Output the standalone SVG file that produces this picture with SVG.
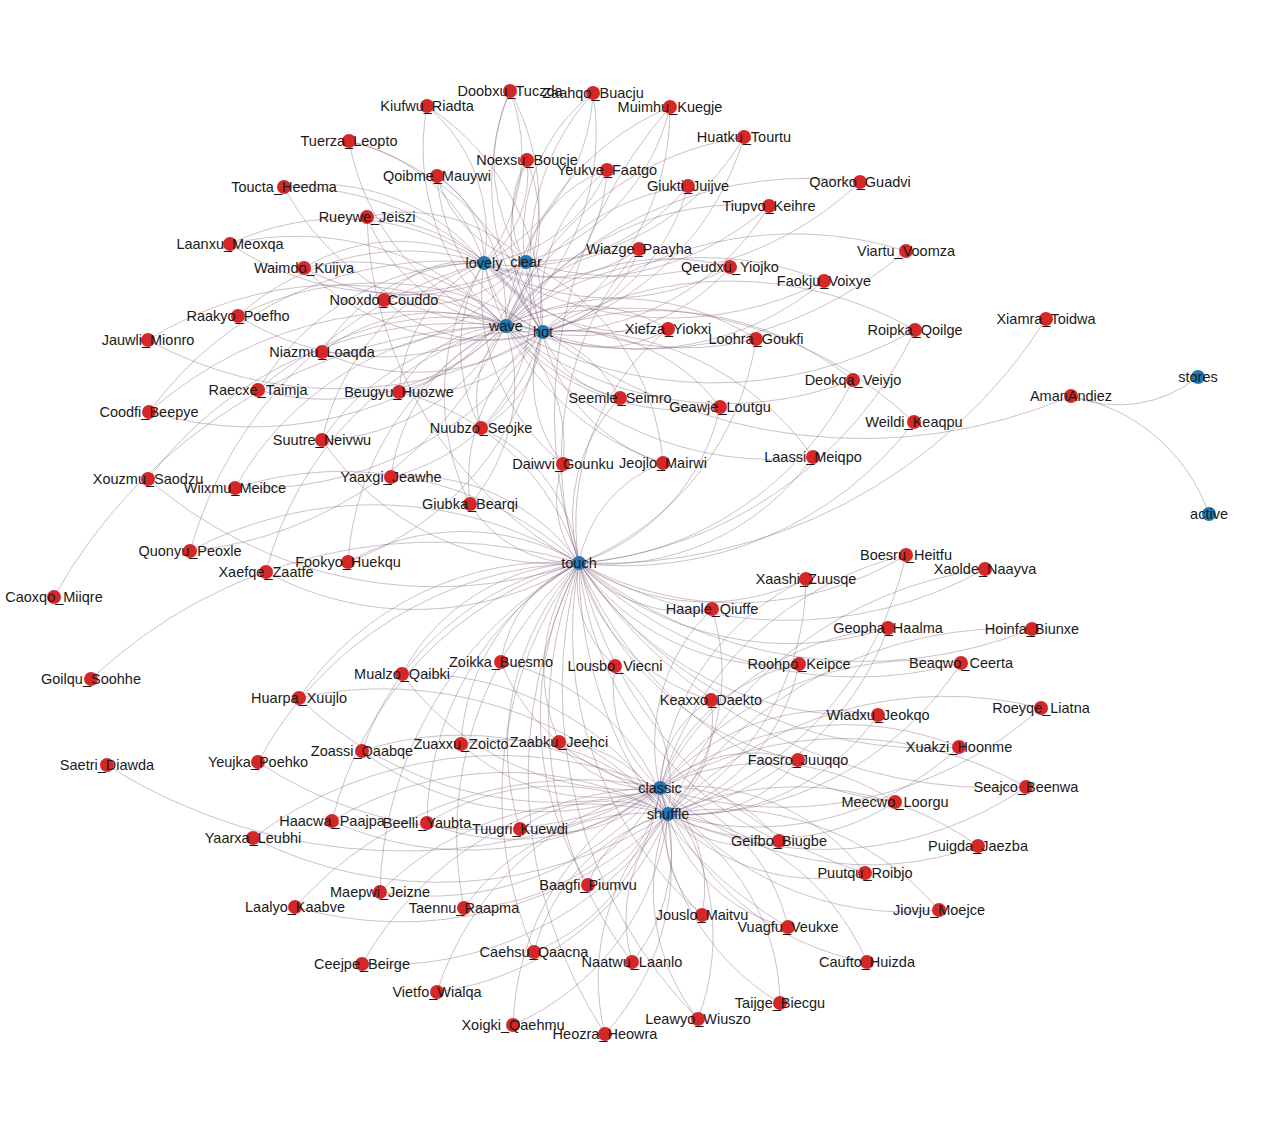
<svg xmlns="http://www.w3.org/2000/svg" width="1263" height="1125" viewBox="0 0 1263 1125">
<style>
#edges path{fill:none;stroke:#83627a;stroke-opacity:.4;stroke-width:1;vector-effect:non-scaling-stroke}
.n circle{fill:#d62728}
.h circle{fill:#1f77b4}
text{font-family:"Liberation Sans",Arial,Helvetica,sans-serif;font-size:14.5px;text-anchor:middle;fill:#1a1a1a}
</style>
<rect width="1263" height="1125" fill="#fff"/>
<g id="edges">
<path d="M0 0A1 1 0 0 1 1 0" transform="matrix(-26,172,-172,-26,510,91)"/>
<path d="M0 0A1 1 0 0 0 1 0" transform="matrix(15,171,-171,15,510,91)"/>
<path d="M0 0A1 1 0 0 1 1 0" transform="matrix(-5,235,-235,-5,510,91)"/>
<path d="M0 0A1 1 0 0 0 1 0" transform="matrix(32,241,-241,32,510,91)"/>
<path d="M0 0A1 1 0 0 1 1 0" transform="matrix(-109,170,-170,-109,593,93)"/>
<path d="M0 0A1 1 0 0 0 1 0" transform="matrix(-68,169,-169,-68,593,93)"/>
<path d="M0 0A1 1 0 0 1 1 0" transform="matrix(-88,233,-233,-88,593,93)"/>
<path d="M0 0A1 1 0 0 0 1 0" transform="matrix(-51,239,-239,-51,593,93)"/>
<path d="M0 0A1 1 0 0 1 1 0" transform="matrix(57,157,-157,57,427,106)"/>
<path d="M0 0A1 1 0 0 0 1 0" transform="matrix(78,220,-220,78,427,106)"/>
<path d="M0 0A1 1 0 0 1 1 0" transform="matrix(115,226,-226,115,427,106)"/>
<path d="M0 0A1 1 0 0 1 1 0" transform="matrix(-145,155,-155,-145,670,107)"/>
<path d="M0 0A1 1 0 0 0 1 0" transform="matrix(-165,219,-219,-165,670,107)"/>
<path d="M0 0A1 1 0 0 1 1 0" transform="matrix(-128,225,-225,-128,670,107)"/>
<path d="M0 0A1 1 0 0 0 1 0" transform="matrix(-91,456,-456,-91,670,107)"/>
<path d="M0 0A1 1 0 0 1 1 0" transform="matrix(135,122,-122,135,349,141)"/>
<path d="M0 0A1 1 0 0 0 1 0" transform="matrix(156,185,-185,156,349,141)"/>
<path d="M0 0A1 1 0 0 1 1 0" transform="matrix(193,191,-191,193,349,141)"/>
<path d="M0 0A1 1 0 0 1 1 0" transform="matrix(-219,125,-125,-219,744,137)"/>
<path d="M0 0A1 1 0 0 0 1 0" transform="matrix(-239,189,-189,-239,744,137)"/>
<path d="M0 0A1 1 0 0 1 1 0" transform="matrix(-202,195,-195,-202,744,137)"/>
<path d="M0 0A1 1 0 0 1 1 0" transform="matrix(-43,103,-103,-43,527,160)"/>
<path d="M0 0A1 1 0 0 0 1 0" transform="matrix(-2,102,-102,-2,527,160)"/>
<path d="M0 0A1 1 0 0 1 1 0" transform="matrix(-22,166,-166,-22,527,160)"/>
<path d="M0 0A1 1 0 0 0 1 0" transform="matrix(15,172,-172,15,527,160)"/>
<path d="M0 0A1 1 0 0 1 1 0" transform="matrix(-123,93,-93,-123,607,170)"/>
<path d="M0 0A1 1 0 0 0 1 0" transform="matrix(-82,92,-92,-82,607,170)"/>
<path d="M0 0A1 1 0 0 1 1 0" transform="matrix(-102,156,-156,-102,607,170)"/>
<path d="M0 0A1 1 0 0 0 1 0" transform="matrix(-65,162,-162,-65,607,170)"/>
<path d="M0 0A1 1 0 0 1 1 0" transform="matrix(47,87,-87,47,437,176)"/>
<path d="M0 0A1 1 0 0 0 1 0" transform="matrix(88,86,-86,88,437,176)"/>
<path d="M0 0A1 1 0 0 1 1 0" transform="matrix(68,150,-150,68,437,176)"/>
<path d="M0 0A1 1 0 0 0 1 0" transform="matrix(105,156,-156,105,437,176)"/>
<path d="M0 0A1 1 0 0 1 1 0" transform="matrix(-204,77,-77,-204,688,186)"/>
<path d="M0 0A1 1 0 0 0 1 0" transform="matrix(-183,140,-140,-183,688,186)"/>
<path d="M0 0A1 1 0 0 1 1 0" transform="matrix(-146,146,-146,-146,688,186)"/>
<path d="M0 0A1 1 0 0 1 1 0" transform="matrix(-335,80,-80,-335,860,182)"/>
<path d="M0 0A1 1 0 0 0 1 0" transform="matrix(-355,144,-144,-355,860,182)"/>
<path d="M0 0A1 1 0 0 1 1 0" transform="matrix(200,76,-76,200,284,187)"/>
<path d="M0 0A1 1 0 0 0 1 0" transform="matrix(221,139,-139,221,284,187)"/>
<path d="M0 0A1 1 0 0 1 1 0" transform="matrix(258,145,-145,258,284,187)"/>
<path d="M0 0A1 1 0 0 1 1 0" transform="matrix(-285,57,-57,-285,769,206)"/>
<path d="M0 0A1 1 0 0 0 1 0" transform="matrix(-264,120,-120,-264,769,206)"/>
<path d="M0 0A1 1 0 0 1 1 0" transform="matrix(-227,126,-126,-227,769,206)"/>
<path d="M0 0A1 1 0 0 1 1 0" transform="matrix(158,45,-45,158,367,217)"/>
<path d="M0 0A1 1 0 0 0 1 0" transform="matrix(138,109,-109,138,367,217)"/>
<path d="M0 0A1 1 0 0 1 1 0" transform="matrix(175,115,-115,175,367,217)"/>
<path d="M0 0A1 1 0 0 0 1 0" transform="matrix(212,346,-346,212,367,217)"/>
<path d="M0 0A1 1 0 0 1 1 0" transform="matrix(254,19,-19,254,230,244)"/>
<path d="M0 0A1 1 0 0 0 1 0" transform="matrix(295,18,-18,295,230,244)"/>
<path d="M0 0A1 1 0 0 1 1 0" transform="matrix(275,82,-82,275,230,244)"/>
<path d="M0 0A1 1 0 0 1 1 0" transform="matrix(-155,14,-14,-155,639,249)"/>
<path d="M0 0A1 1 0 0 0 1 0" transform="matrix(-134,77,-77,-134,639,249)"/>
<path d="M0 0A1 1 0 0 1 1 0" transform="matrix(-97,83,-83,-97,639,249)"/>
<path d="M0 0A1 1 0 0 0 1 0" transform="matrix(-60,314,-314,-60,639,249)"/>
<path d="M0 0A1 1 0 0 1 1 0" transform="matrix(-401,75,-75,-401,906,251)"/>
<path d="M0 0A1 1 0 0 0 1 0" transform="matrix(-364,81,-81,-364,906,251)"/>
<path d="M0 0A1 1 0 0 1 1 0" transform="matrix(180,-5,5,180,304,268)"/>
<path d="M0 0A1 1 0 0 0 1 0" transform="matrix(221,-6,6,221,304,268)"/>
<path d="M0 0A1 1 0 0 1 1 0" transform="matrix(201,58,-58,201,304,268)"/>
<path d="M0 0A1 1 0 0 0 1 0" transform="matrix(238,64,-64,238,304,268)"/>
<path d="M0 0A1 1 0 0 1 1 0" transform="matrix(-246,-4,4,-246,730,267)"/>
<path d="M0 0A1 1 0 0 0 1 0" transform="matrix(-225,59,-59,-225,730,267)"/>
<path d="M0 0A1 1 0 0 1 1 0" transform="matrix(-188,65,-65,-188,730,267)"/>
<path d="M0 0A1 1 0 0 1 1 0" transform="matrix(-340,-18,18,-340,824,281)"/>
<path d="M0 0A1 1 0 0 0 1 0" transform="matrix(-319,45,-45,-319,824,281)"/>
<path d="M0 0A1 1 0 0 1 1 0" transform="matrix(-282,51,-51,-282,824,281)"/>
<path d="M0 0A1 1 0 0 1 1 0" transform="matrix(100,-37,37,100,384,300)"/>
<path d="M0 0A1 1 0 0 0 1 0" transform="matrix(141,-38,38,141,384,300)"/>
<path d="M0 0A1 1 0 0 1 1 0" transform="matrix(121,26,-26,121,384,300)"/>
<path d="M0 0A1 1 0 0 0 1 0" transform="matrix(158,32,-32,158,384,300)"/>
<path d="M0 0A1 1 0 0 1 1 0" transform="matrix(246,-53,53,246,238,316)"/>
<path d="M0 0A1 1 0 0 0 1 0" transform="matrix(267,10,-10,267,238,316)"/>
<path d="M0 0A1 1 0 0 1 1 0" transform="matrix(304,16,-16,304,238,316)"/>
<path d="M0 0A1 1 0 0 1 1 0" transform="matrix(-467,244,-244,-467,1046,319)"/>
<path d="M0 0A1 1 0 0 1 1 0" transform="matrix(-184,-66,66,-184,668,329)"/>
<path d="M0 0A1 1 0 0 0 1 0" transform="matrix(-163,-3,3,-163,668,329)"/>
<path d="M0 0A1 1 0 0 1 1 0" transform="matrix(-126,3,-3,-126,668,329)"/>
<path d="M0 0A1 1 0 0 0 1 0" transform="matrix(-89,234,-234,-89,668,329)"/>
<path d="M0 0A1 1 0 0 1 1 0" transform="matrix(-410,-4,4,-410,915,330)"/>
<path d="M0 0A1 1 0 0 0 1 0" transform="matrix(-373,2,-2,-373,915,330)"/>
<path d="M0 0A1 1 0 0 1 1 0" transform="matrix(-336,233,-233,-336,915,330)"/>
<path d="M0 0A1 1 0 0 1 1 0" transform="matrix(357,-14,14,357,148,340)"/>
<path d="M0 0A1 1 0 0 0 1 0" transform="matrix(394,-8,8,394,148,340)"/>
<path d="M0 0A1 1 0 0 1 1 0" transform="matrix(-272,-76,76,-272,756,339)"/>
<path d="M0 0A1 1 0 0 0 1 0" transform="matrix(-251,-13,13,-251,756,339)"/>
<path d="M0 0A1 1 0 0 1 1 0" transform="matrix(-177,224,-224,-177,756,339)"/>
<path d="M0 0A1 1 0 0 1 1 0" transform="matrix(162,-89,89,162,322,352)"/>
<path d="M0 0A1 1 0 0 0 1 0" transform="matrix(203,-90,90,203,322,352)"/>
<path d="M0 0A1 1 0 0 1 1 0" transform="matrix(183,-26,26,183,322,352)"/>
<path d="M0 0A1 1 0 0 0 1 0" transform="matrix(220,-20,20,220,322,352)"/>
<path d="M0 0A1 1 0 0 1 1 0" transform="matrix(-348,-54,54,-348,853,380)"/>
<path d="M0 0A1 1 0 0 0 1 0" transform="matrix(-311,-48,48,-311,853,380)"/>
<path d="M0 0A1 1 0 0 1 1 0" transform="matrix(-274,183,-183,-274,853,380)"/>
<path d="M0 0A1 1 0 0 1 1 0" transform="matrix(226,-127,127,226,258,390)"/>
<path d="M0 0A1 1 0 0 0 1 0" transform="matrix(247,-64,64,247,258,390)"/>
<path d="M0 0A1 1 0 0 1 1 0" transform="matrix(284,-58,58,284,258,390)"/>
<path d="M0 0A1 1 0 0 1 1 0" transform="matrix(85,-129,129,85,399,392)"/>
<path d="M0 0A1 1 0 0 0 1 0" transform="matrix(126,-130,130,126,399,392)"/>
<path d="M0 0A1 1 0 0 1 1 0" transform="matrix(106,-66,66,106,399,392)"/>
<path d="M0 0A1 1 0 0 0 1 0" transform="matrix(143,-60,60,143,399,392)"/>
<path d="M0 0A1 1 0 0 1 1 0" transform="matrix(180,171,-171,180,399,392)"/>
<path d="M0 0A1 1 0 0 1 1 0" transform="matrix(-528,-64,64,-528,1071,396)"/>
<path d="M0 0A1 1 0 0 0 1 0" transform="matrix(127,-19,19,127,1071,396)"/>
<path d="M0 0A1 1 0 0 1 1 0" transform="matrix(138,118,-118,138,1071,396)"/>
<path d="M0 0A1 1 0 0 1 1 0" transform="matrix(-136,-135,135,-136,620,398)"/>
<path d="M0 0A1 1 0 0 0 1 0" transform="matrix(-115,-72,72,-115,620,398)"/>
<path d="M0 0A1 1 0 0 1 1 0" transform="matrix(-78,-66,66,-78,620,398)"/>
<path d="M0 0A1 1 0 0 0 1 0" transform="matrix(-41,165,-165,-41,620,398)"/>
<path d="M0 0A1 1 0 0 1 1 0" transform="matrix(-215,-81,81,-215,720,407)"/>
<path d="M0 0A1 1 0 0 0 1 0" transform="matrix(-178,-75,75,-178,720,407)"/>
<path d="M0 0A1 1 0 0 1 1 0" transform="matrix(-141,156,-156,-141,720,407)"/>
<path d="M0 0A1 1 0 0 1 1 0" transform="matrix(335,-149,149,335,149,412)"/>
<path d="M0 0A1 1 0 0 0 1 0" transform="matrix(356,-86,86,356,149,412)"/>
<path d="M0 0A1 1 0 0 1 1 0" transform="matrix(393,-80,80,393,149,412)"/>
<path d="M0 0A1 1 0 0 0 1 0" transform="matrix(-409,-96,96,-409,914,422)"/>
<path d="M0 0A1 1 0 0 1 1 0" transform="matrix(-335,141,-141,-335,914,422)"/>
<path d="M0 0A1 1 0 0 1 1 0" transform="matrix(3,-165,165,3,481,428)"/>
<path d="M0 0A1 1 0 0 0 1 0" transform="matrix(44,-166,166,44,481,428)"/>
<path d="M0 0A1 1 0 0 1 1 0" transform="matrix(24,-102,102,24,481,428)"/>
<path d="M0 0A1 1 0 0 0 1 0" transform="matrix(61,-96,96,61,481,428)"/>
<path d="M0 0A1 1 0 0 1 1 0" transform="matrix(98,135,-135,98,481,428)"/>
<path d="M0 0A1 1 0 0 1 1 0" transform="matrix(162,-177,177,162,322,440)"/>
<path d="M0 0A1 1 0 0 0 1 0" transform="matrix(183,-114,114,183,322,440)"/>
<path d="M0 0A1 1 0 0 1 1 0" transform="matrix(220,-108,108,220,322,440)"/>
<path d="M0 0A1 1 0 0 0 1 0" transform="matrix(257,123,-123,257,322,440)"/>
<path d="M0 0A1 1 0 0 1 1 0" transform="matrix(-308,-131,131,-308,813,457)"/>
<path d="M0 0A1 1 0 0 0 1 0" transform="matrix(-271,-125,125,-271,813,457)"/>
<path d="M0 0A1 1 0 0 1 1 0" transform="matrix(-234,106,-106,-234,813,457)"/>
<path d="M0 0A1 1 0 0 1 1 0" transform="matrix(-79,-201,201,-79,563,464)"/>
<path d="M0 0A1 1 0 0 0 1 0" transform="matrix(-58,-138,138,-58,563,464)"/>
<path d="M0 0A1 1 0 0 1 1 0" transform="matrix(-21,-132,132,-21,563,464)"/>
<path d="M0 0A1 1 0 0 0 1 0" transform="matrix(16,99,-99,16,563,464)"/>
<path d="M0 0A1 1 0 0 1 1 0" transform="matrix(-179,-200,200,-179,663,463)"/>
<path d="M0 0A1 1 0 0 0 1 0" transform="matrix(-138,-201,201,-138,663,463)"/>
<path d="M0 0A1 1 0 0 1 1 0" transform="matrix(-121,-131,131,-121,663,463)"/>
<path d="M0 0A1 1 0 0 0 1 0" transform="matrix(-84,100,-100,-84,663,463)"/>
<path d="M0 0A1 1 0 0 1 1 0" transform="matrix(114,-151,151,114,391,477)"/>
<path d="M0 0A1 1 0 0 0 1 0" transform="matrix(151,-145,145,151,391,477)"/>
<path d="M0 0A1 1 0 0 1 1 0" transform="matrix(188,86,-86,188,391,477)"/>
<path d="M0 0A1 1 0 0 1 1 0" transform="matrix(357,-153,153,357,148,479)"/>
<path d="M0 0A1 1 0 0 0 1 0" transform="matrix(431,84,-84,431,148,479)"/>
<path d="M0 0A1 1 0 0 1 1 0" transform="matrix(270,-162,162,270,235,488)"/>
<path d="M0 0A1 1 0 0 0 1 0" transform="matrix(307,-156,156,307,235,488)"/>
<path d="M0 0A1 1 0 0 1 1 0" transform="matrix(344,75,-75,344,235,488)"/>
<path d="M0 0A1 1 0 0 1 1 0" transform="matrix(14,-241,241,14,470,504)"/>
<path d="M0 0A1 1 0 0 0 1 0" transform="matrix(35,-178,178,35,470,504)"/>
<path d="M0 0A1 1 0 0 1 1 0" transform="matrix(72,-172,172,72,470,504)"/>
<path d="M0 0A1 1 0 0 0 1 0" transform="matrix(109,59,-59,109,470,504)"/>
<path d="M0 0A1 1 0 0 1 1 0" transform="matrix(294,-288,288,294,190,551)"/>
<path d="M0 0A1 1 0 0 0 1 0" transform="matrix(315,-225,225,315,190,551)"/>
<path d="M0 0A1 1 0 0 1 1 0" transform="matrix(389,12,-12,389,190,551)"/>
<path d="M0 0A1 1 0 0 1 1 0" transform="matrix(157,-236,236,157,348,562)"/>
<path d="M0 0A1 1 0 0 0 1 0" transform="matrix(194,-230,230,194,348,562)"/>
<path d="M0 0A1 1 0 0 1 1 0" transform="matrix(231,1,-1,231,348,562)"/>
<path d="M0 0A1 1 0 0 1 1 0" transform="matrix(239,-246,246,239,266,572)"/>
<path d="M0 0A1 1 0 0 0 1 0" transform="matrix(313,-9,9,313,266,572)"/>
<path d="M0 0A1 1 0 0 1 1 0" transform="matrix(451,-271,271,451,54,597)"/>
<path d="M0 0A1 1 0 0 1 1 0" transform="matrix(-327,8,-8,-327,906,555)"/>
<path d="M0 0A1 1 0 0 0 1 0" transform="matrix(-246,233,-233,-246,906,555)"/>
<path d="M0 0A1 1 0 0 1 1 0" transform="matrix(-238,259,-259,-238,906,555)"/>
<path d="M0 0A1 1 0 0 1 1 0" transform="matrix(-406,-6,6,-406,985,569)"/>
<path d="M0 0A1 1 0 0 0 1 0" transform="matrix(-317,245,-245,-317,985,569)"/>
<path d="M0 0A1 1 0 0 1 1 0" transform="matrix(-227,-16,16,-227,806,579)"/>
<path d="M0 0A1 1 0 0 0 1 0" transform="matrix(-146,209,-209,-146,806,579)"/>
<path d="M0 0A1 1 0 0 1 1 0" transform="matrix(-138,235,-235,-138,806,579)"/>
<path d="M0 0A1 1 0 0 1 1 0" transform="matrix(-133,-46,46,-133,712,609)"/>
<path d="M0 0A1 1 0 0 0 1 0" transform="matrix(-52,179,-179,-52,712,609)"/>
<path d="M0 0A1 1 0 0 1 1 0" transform="matrix(-44,205,-205,-44,712,609)"/>
<path d="M0 0A1 1 0 0 1 1 0" transform="matrix(-309,-65,65,-309,888,628)"/>
<path d="M0 0A1 1 0 0 0 1 0" transform="matrix(-228,160,-160,-228,888,628)"/>
<path d="M0 0A1 1 0 0 1 1 0" transform="matrix(-220,186,-186,-220,888,628)"/>
<path d="M0 0A1 1 0 0 1 1 0" transform="matrix(-453,-66,66,-453,1032,629)"/>
<path d="M0 0A1 1 0 0 0 1 0" transform="matrix(-364,185,-185,-364,1032,629)"/>
<path d="M0 0A1 1 0 0 1 1 0" transform="matrix(78,-99,99,78,501,662)"/>
<path d="M0 0A1 1 0 0 0 1 0" transform="matrix(159,126,-126,159,501,662)"/>
<path d="M0 0A1 1 0 0 1 1 0" transform="matrix(167,152,-152,167,501,662)"/>
<path d="M0 0A1 1 0 0 1 1 0" transform="matrix(-382,-100,100,-382,961,663)"/>
<path d="M0 0A1 1 0 0 0 1 0" transform="matrix(-301,125,-125,-301,961,663)"/>
<path d="M0 0A1 1 0 0 1 1 0" transform="matrix(-293,151,-151,-293,961,663)"/>
<path d="M0 0A1 1 0 0 1 1 0" transform="matrix(-220,-101,101,-220,799,664)"/>
<path d="M0 0A1 1 0 0 0 1 0" transform="matrix(-139,124,-124,-139,799,664)"/>
<path d="M0 0A1 1 0 0 1 1 0" transform="matrix(-131,150,-150,-131,799,664)"/>
<path d="M0 0A1 1 0 0 1 1 0" transform="matrix(-36,-103,103,-36,615,666)"/>
<path d="M0 0A1 1 0 0 0 1 0" transform="matrix(45,122,-122,45,615,666)"/>
<path d="M0 0A1 1 0 0 1 1 0" transform="matrix(53,148,-148,53,615,666)"/>
<path d="M0 0A1 1 0 0 1 1 0" transform="matrix(177,-111,111,177,402,674)"/>
<path d="M0 0A1 1 0 0 0 1 0" transform="matrix(258,114,-114,258,402,674)"/>
<path d="M0 0A1 1 0 0 1 1 0" transform="matrix(266,140,-140,266,402,674)"/>
<path d="M0 0A1 1 0 0 1 1 0" transform="matrix(488,-116,116,488,91,679)"/>
<path d="M0 0A1 1 0 0 1 1 0" transform="matrix(280,-135,135,280,299,698)"/>
<path d="M0 0A1 1 0 0 0 1 0" transform="matrix(361,90,-90,361,299,698)"/>
<path d="M0 0A1 1 0 0 1 1 0" transform="matrix(369,116,-116,369,299,698)"/>
<path d="M0 0A1 1 0 0 1 1 0" transform="matrix(-132,-137,137,-132,711,700)"/>
<path d="M0 0A1 1 0 0 0 1 0" transform="matrix(-51,88,-88,-51,711,700)"/>
<path d="M0 0A1 1 0 0 1 1 0" transform="matrix(-43,114,-114,-43,711,700)"/>
<path d="M0 0A1 1 0 0 1 1 0" transform="matrix(-381,80,-80,-381,1041,708)"/>
<path d="M0 0A1 1 0 0 0 1 0" transform="matrix(-373,106,-106,-373,1041,708)"/>
<path d="M0 0A1 1 0 0 1 1 0" transform="matrix(-299,-152,152,-299,878,715)"/>
<path d="M0 0A1 1 0 0 0 1 0" transform="matrix(-218,73,-73,-218,878,715)"/>
<path d="M0 0A1 1 0 0 1 1 0" transform="matrix(-210,99,-99,-210,878,715)"/>
<path d="M0 0A1 1 0 0 1 1 0" transform="matrix(118,-181,181,118,461,744)"/>
<path d="M0 0A1 1 0 0 0 1 0" transform="matrix(199,44,-44,199,461,744)"/>
<path d="M0 0A1 1 0 0 1 1 0" transform="matrix(207,70,-70,207,461,744)"/>
<path d="M0 0A1 1 0 0 1 1 0" transform="matrix(20,-179,179,20,559,742)"/>
<path d="M0 0A1 1 0 0 0 1 0" transform="matrix(101,46,-46,101,559,742)"/>
<path d="M0 0A1 1 0 0 1 1 0" transform="matrix(109,72,-72,109,559,742)"/>
<path d="M0 0A1 1 0 0 1 1 0" transform="matrix(-380,-184,184,-380,959,747)"/>
<path d="M0 0A1 1 0 0 0 1 0" transform="matrix(-299,41,-41,-299,959,747)"/>
<path d="M0 0A1 1 0 0 1 1 0" transform="matrix(-291,67,-67,-291,959,747)"/>
<path d="M0 0A1 1 0 0 1 1 0" transform="matrix(217,-188,188,217,362,751)"/>
<path d="M0 0A1 1 0 0 0 1 0" transform="matrix(298,37,-37,298,362,751)"/>
<path d="M0 0A1 1 0 0 1 1 0" transform="matrix(306,63,-63,306,362,751)"/>
<path d="M0 0A1 1 0 0 1 1 0" transform="matrix(-219,-197,197,-219,798,760)"/>
<path d="M0 0A1 1 0 0 0 1 0" transform="matrix(-138,28,-28,-138,798,760)"/>
<path d="M0 0A1 1 0 0 1 1 0" transform="matrix(-130,54,-54,-130,798,760)"/>
<path d="M0 0A1 1 0 0 1 1 0" transform="matrix(321,-199,199,321,258,762)"/>
<path d="M0 0A1 1 0 0 0 1 0" transform="matrix(402,26,-26,402,258,762)"/>
<path d="M0 0A1 1 0 0 0 1 0" transform="matrix(553,23,-23,553,107,765)"/>
<path d="M0 0A1 1 0 0 1 1 0" transform="matrix(-447,-224,224,-447,1026,787)"/>
<path d="M0 0A1 1 0 0 0 1 0" transform="matrix(-366,1,-1,-366,1026,787)"/>
<path d="M0 0A1 1 0 0 1 1 0" transform="matrix(-358,27,-27,-358,1026,787)"/>
<path d="M0 0A1 1 0 0 1 1 0" transform="matrix(-316,-239,239,-316,895,802)"/>
<path d="M0 0A1 1 0 0 0 1 0" transform="matrix(-235,-14,14,-235,895,802)"/>
<path d="M0 0A1 1 0 0 1 1 0" transform="matrix(-227,12,-12,-227,895,802)"/>
<path d="M0 0A1 1 0 0 1 1 0" transform="matrix(247,-258,258,247,332,821)"/>
<path d="M0 0A1 1 0 0 0 1 0" transform="matrix(328,-33,33,328,332,821)"/>
<path d="M0 0A1 1 0 0 1 1 0" transform="matrix(336,-7,7,336,332,821)"/>
<path d="M0 0A1 1 0 0 1 1 0" transform="matrix(152,-260,260,152,427,823)"/>
<path d="M0 0A1 1 0 0 0 1 0" transform="matrix(233,-35,35,233,427,823)"/>
<path d="M0 0A1 1 0 0 1 1 0" transform="matrix(241,-9,9,241,427,823)"/>
<path d="M0 0A1 1 0 0 1 1 0" transform="matrix(59,-266,266,59,520,829)"/>
<path d="M0 0A1 1 0 0 0 1 0" transform="matrix(140,-41,41,140,520,829)"/>
<path d="M0 0A1 1 0 0 1 1 0" transform="matrix(148,-15,15,148,520,829)"/>
<path d="M0 0A1 1 0 0 1 1 0" transform="matrix(407,-50,50,407,253,838)"/>
<path d="M0 0A1 1 0 0 0 1 0" transform="matrix(415,-24,24,415,253,838)"/>
<path d="M0 0A1 1 0 0 1 1 0" transform="matrix(-200,-278,278,-200,779,841)"/>
<path d="M0 0A1 1 0 0 0 1 0" transform="matrix(-119,-53,53,-119,779,841)"/>
<path d="M0 0A1 1 0 0 1 1 0" transform="matrix(-111,-27,27,-111,779,841)"/>
<path d="M0 0A1 1 0 0 1 1 0" transform="matrix(-318,-58,58,-318,978,846)"/>
<path d="M0 0A1 1 0 0 0 1 0" transform="matrix(-310,-32,32,-310,978,846)"/>
<path d="M0 0A1 1 0 0 1 1 0" transform="matrix(-286,-310,310,-286,865,873)"/>
<path d="M0 0A1 1 0 0 0 1 0" transform="matrix(-205,-85,85,-205,865,873)"/>
<path d="M0 0A1 1 0 0 1 1 0" transform="matrix(-197,-59,59,-197,865,873)"/>
<path d="M0 0A1 1 0 0 1 1 0" transform="matrix(-9,-322,322,-9,588,885)"/>
<path d="M0 0A1 1 0 0 0 1 0" transform="matrix(72,-97,97,72,588,885)"/>
<path d="M0 0A1 1 0 0 1 1 0" transform="matrix(80,-71,71,80,588,885)"/>
<path d="M0 0A1 1 0 0 1 1 0" transform="matrix(199,-329,329,199,380,892)"/>
<path d="M0 0A1 1 0 0 0 1 0" transform="matrix(280,-104,104,280,380,892)"/>
<path d="M0 0A1 1 0 0 1 1 0" transform="matrix(288,-78,78,288,380,892)"/>
<path d="M0 0A1 1 0 0 1 1 0" transform="matrix(365,-119,119,365,295,907)"/>
<path d="M0 0A1 1 0 0 0 1 0" transform="matrix(373,-93,93,373,295,907)"/>
<path d="M0 0A1 1 0 0 1 1 0" transform="matrix(115,-345,345,115,464,908)"/>
<path d="M0 0A1 1 0 0 0 1 0" transform="matrix(196,-120,120,196,464,908)"/>
<path d="M0 0A1 1 0 0 1 1 0" transform="matrix(204,-94,94,204,464,908)"/>
<path d="M0 0A1 1 0 0 1 1 0" transform="matrix(-279,-122,122,-279,939,910)"/>
<path d="M0 0A1 1 0 0 0 1 0" transform="matrix(-271,-96,96,-271,939,910)"/>
<path d="M0 0A1 1 0 0 1 1 0" transform="matrix(-123,-352,352,-123,702,915)"/>
<path d="M0 0A1 1 0 0 0 1 0" transform="matrix(-42,-127,127,-42,702,915)"/>
<path d="M0 0A1 1 0 0 1 1 0" transform="matrix(-34,-101,101,-34,702,915)"/>
<path d="M0 0A1 1 0 0 1 1 0" transform="matrix(-209,-364,364,-209,788,927)"/>
<path d="M0 0A1 1 0 0 0 1 0" transform="matrix(-128,-139,139,-128,788,927)"/>
<path d="M0 0A1 1 0 0 1 1 0" transform="matrix(-120,-113,113,-120,788,927)"/>
<path d="M0 0A1 1 0 0 1 1 0" transform="matrix(45,-389,389,45,534,952)"/>
<path d="M0 0A1 1 0 0 0 1 0" transform="matrix(126,-164,164,126,534,952)"/>
<path d="M0 0A1 1 0 0 1 1 0" transform="matrix(134,-138,138,134,534,952)"/>
<path d="M0 0A1 1 0 0 1 1 0" transform="matrix(-53,-399,399,-53,632,962)"/>
<path d="M0 0A1 1 0 0 0 1 0" transform="matrix(28,-174,174,28,632,962)"/>
<path d="M0 0A1 1 0 0 1 1 0" transform="matrix(36,-148,148,36,632,962)"/>
<path d="M0 0A1 1 0 0 1 1 0" transform="matrix(-207,-174,174,-207,867,962)"/>
<path d="M0 0A1 1 0 0 0 1 0" transform="matrix(-199,-148,148,-199,867,962)"/>
<path d="M0 0A1 1 0 0 1 1 0" transform="matrix(298,-176,176,298,362,964)"/>
<path d="M0 0A1 1 0 0 0 1 0" transform="matrix(306,-150,150,306,362,964)"/>
<path d="M0 0A1 1 0 0 1 1 0" transform="matrix(223,-204,204,223,437,992)"/>
<path d="M0 0A1 1 0 0 0 1 0" transform="matrix(231,-178,178,231,437,992)"/>
<path d="M0 0A1 1 0 0 1 1 0" transform="matrix(-120,-215,215,-120,780,1003)"/>
<path d="M0 0A1 1 0 0 0 1 0" transform="matrix(-112,-189,189,-112,780,1003)"/>
<path d="M0 0A1 1 0 0 1 1 0" transform="matrix(-119,-456,456,-119,698,1019)"/>
<path d="M0 0A1 1 0 0 0 1 0" transform="matrix(-38,-231,231,-38,698,1019)"/>
<path d="M0 0A1 1 0 0 1 1 0" transform="matrix(-30,-205,205,-30,698,1019)"/>
<path d="M0 0A1 1 0 0 1 1 0" transform="matrix(147,-237,237,147,513,1025)"/>
<path d="M0 0A1 1 0 0 0 1 0" transform="matrix(155,-211,211,155,513,1025)"/>
<path d="M0 0A1 1 0 0 1 1 0" transform="matrix(-26,-471,471,-26,605,1034)"/>
<path d="M0 0A1 1 0 0 0 1 0" transform="matrix(55,-246,246,55,605,1034)"/>
<path d="M0 0A1 1 0 0 1 1 0" transform="matrix(63,-220,220,63,605,1034)"/>
</g>
<g id="nodes">
<g id="n-Doobxu_Tuczda" class="n" transform="translate(510,91)"><circle r="7"/><text y="5">Doobxu_Tuczda</text></g>
<g id="n-Zaahqo_Buacju" class="n" transform="translate(593,93)"><circle r="7"/><text y="5">Zaahqo_Buacju</text></g>
<g id="n-Kiufwu_Riadta" class="n" transform="translate(427,106)"><circle r="7"/><text y="5">Kiufwu_Riadta</text></g>
<g id="n-Muimhu_Kuegje" class="n" transform="translate(670,107)"><circle r="7"/><text y="5">Muimhu_Kuegje</text></g>
<g id="n-Tuerza_Leopto" class="n" transform="translate(349,141)"><circle r="7"/><text y="5">Tuerza_Leopto</text></g>
<g id="n-Huatku_Tourtu" class="n" transform="translate(744,137)"><circle r="7"/><text y="5">Huatku_Tourtu</text></g>
<g id="n-Noexsu_Boucje" class="n" transform="translate(527,160)"><circle r="7"/><text y="5">Noexsu_Boucje</text></g>
<g id="n-Yeukve_Faatgo" class="n" transform="translate(607,170)"><circle r="7"/><text y="5">Yeukve_Faatgo</text></g>
<g id="n-Qoibme_Mauywi" class="n" transform="translate(437,176)"><circle r="7"/><text y="5">Qoibme_Mauywi</text></g>
<g id="n-Giukti_Juijve" class="n" transform="translate(688,186)"><circle r="7"/><text y="5">Giukti_Juijve</text></g>
<g id="n-Qaorko_Guadvi" class="n" transform="translate(860,182)"><circle r="7"/><text y="5">Qaorko_Guadvi</text></g>
<g id="n-Toucta_Heedma" class="n" transform="translate(284,187)"><circle r="7"/><text y="5">Toucta_Heedma</text></g>
<g id="n-Tiupvo_Keihre" class="n" transform="translate(769,206)"><circle r="7"/><text y="5">Tiupvo_Keihre</text></g>
<g id="n-Rueywe_Jeiszi" class="n" transform="translate(367,217)"><circle r="7"/><text y="5">Rueywe_Jeiszi</text></g>
<g id="n-Laanxu_Meoxqa" class="n" transform="translate(230,244)"><circle r="7"/><text y="5">Laanxu_Meoxqa</text></g>
<g id="n-Wiazge_Paayha" class="n" transform="translate(639,249)"><circle r="7"/><text y="5">Wiazge_Paayha</text></g>
<g id="n-Viartu_Voomza" class="n" transform="translate(906,251)"><circle r="7"/><text y="5">Viartu_Voomza</text></g>
<g id="n-Waimdo_Kuijva" class="n" transform="translate(304,268)"><circle r="7"/><text y="5">Waimdo_Kuijva</text></g>
<g id="n-Qeudxu_Yiojko" class="n" transform="translate(730,267)"><circle r="7"/><text y="5">Qeudxu_Yiojko</text></g>
<g id="n-Faokju_Voixye" class="n" transform="translate(824,281)"><circle r="7"/><text y="5">Faokju_Voixye</text></g>
<g id="n-Nooxdo_Couddo" class="n" transform="translate(384,300)"><circle r="7"/><text y="5">Nooxdo_Couddo</text></g>
<g id="n-Raakyo_Poefho" class="n" transform="translate(238,316)"><circle r="7"/><text y="5">Raakyo_Poefho</text></g>
<g id="n-Xiamra_Toidwa" class="n" transform="translate(1046,319)"><circle r="7"/><text y="5">Xiamra_Toidwa</text></g>
<g id="n-Xiefza_Yiokxi" class="n" transform="translate(668,329)"><circle r="7"/><text y="5">Xiefza_Yiokxi</text></g>
<g id="n-Roipka_Qoilge" class="n" transform="translate(915,330)"><circle r="7"/><text y="5">Roipka_Qoilge</text></g>
<g id="n-Jauwli_Mionro" class="n" transform="translate(148,340)"><circle r="7"/><text y="5">Jauwli_Mionro</text></g>
<g id="n-Loohra_Goukfi" class="n" transform="translate(756,339)"><circle r="7"/><text y="5">Loohra_Goukfi</text></g>
<g id="n-Niazmu_Loaqda" class="n" transform="translate(322,352)"><circle r="7"/><text y="5">Niazmu_Loaqda</text></g>
<g id="n-Deokqa_Veiyjo" class="n" transform="translate(853,380)"><circle r="7"/><text y="5">Deokqa_Veiyjo</text></g>
<g id="n-Raecxe_Taimja" class="n" transform="translate(258,390)"><circle r="7"/><text y="5">Raecxe_Taimja</text></g>
<g id="n-Beugyu_Huozwe" class="n" transform="translate(399,392)"><circle r="7"/><text y="5">Beugyu_Huozwe</text></g>
<g id="n-AmanAndiez" class="n" transform="translate(1071,396)"><circle r="7"/><text y="5">AmanAndiez</text></g>
<g id="n-Seemle_Seimro" class="n" transform="translate(620,398)"><circle r="7"/><text y="5">Seemle_Seimro</text></g>
<g id="n-Geawje_Loutgu" class="n" transform="translate(720,407)"><circle r="7"/><text y="5">Geawje_Loutgu</text></g>
<g id="n-Coodfi_Beepye" class="n" transform="translate(149,412)"><circle r="7"/><text y="5">Coodfi_Beepye</text></g>
<g id="n-Weildi_Keaqpu" class="n" transform="translate(914,422)"><circle r="7"/><text y="5">Weildi_Keaqpu</text></g>
<g id="n-Nuubzo_Seojke" class="n" transform="translate(481,428)"><circle r="7"/><text y="5">Nuubzo_Seojke</text></g>
<g id="n-Suutre_Neivwu" class="n" transform="translate(322,440)"><circle r="7"/><text y="5">Suutre_Neivwu</text></g>
<g id="n-Laassi_Meiqpo" class="n" transform="translate(813,457)"><circle r="7"/><text y="5">Laassi_Meiqpo</text></g>
<g id="n-Daiwvi_Gounku" class="n" transform="translate(563,464)"><circle r="7"/><text y="5">Daiwvi_Gounku</text></g>
<g id="n-Jeojlo_Mairwi" class="n" transform="translate(663,463)"><circle r="7"/><text y="5">Jeojlo_Mairwi</text></g>
<g id="n-Yaaxgi_Jeawhe" class="n" transform="translate(391,477)"><circle r="7"/><text y="5">Yaaxgi_Jeawhe</text></g>
<g id="n-Xouzmu_Saodzu" class="n" transform="translate(148,479)"><circle r="7"/><text y="5">Xouzmu_Saodzu</text></g>
<g id="n-Wiixmu_Meibce" class="n" transform="translate(235,488)"><circle r="7"/><text y="5">Wiixmu_Meibce</text></g>
<g id="n-Giubka_Bearqi" class="n" transform="translate(470,504)"><circle r="7"/><text y="5">Giubka_Bearqi</text></g>
<g id="n-Quonyu_Peoxle" class="n" transform="translate(190,551)"><circle r="7"/><text y="5">Quonyu_Peoxle</text></g>
<g id="n-Fookyo_Huekqu" class="n" transform="translate(348,562)"><circle r="7"/><text y="5">Fookyo_Huekqu</text></g>
<g id="n-Xaefqe_Zaatfe" class="n" transform="translate(266,572)"><circle r="7"/><text y="5">Xaefqe_Zaatfe</text></g>
<g id="n-Caoxqo_Miiqre" class="n" transform="translate(54,597)"><circle r="7"/><text y="5">Caoxqo_Miiqre</text></g>
<g id="n-Boesru_Heitfu" class="n" transform="translate(906,555)"><circle r="7"/><text y="5">Boesru_Heitfu</text></g>
<g id="n-Xaolde_Naayva" class="n" transform="translate(985,569)"><circle r="7"/><text y="5">Xaolde_Naayva</text></g>
<g id="n-Xaashi_Zuusqe" class="n" transform="translate(806,579)"><circle r="7"/><text y="5">Xaashi_Zuusqe</text></g>
<g id="n-Haaple_Qiuffe" class="n" transform="translate(712,609)"><circle r="7"/><text y="5">Haaple_Qiuffe</text></g>
<g id="n-Geopha_Haalma" class="n" transform="translate(888,628)"><circle r="7"/><text y="5">Geopha_Haalma</text></g>
<g id="n-Hoinfa_Biunxe" class="n" transform="translate(1032,629)"><circle r="7"/><text y="5">Hoinfa_Biunxe</text></g>
<g id="n-Zoikka_Buesmo" class="n" transform="translate(501,662)"><circle r="7"/><text y="5">Zoikka_Buesmo</text></g>
<g id="n-Beaqwo_Ceerta" class="n" transform="translate(961,663)"><circle r="7"/><text y="5">Beaqwo_Ceerta</text></g>
<g id="n-Roohpo_Keipce" class="n" transform="translate(799,664)"><circle r="7"/><text y="5">Roohpo_Keipce</text></g>
<g id="n-Lousbo_Viecni" class="n" transform="translate(615,666)"><circle r="7"/><text y="5">Lousbo_Viecni</text></g>
<g id="n-Mualzo_Qaibki" class="n" transform="translate(402,674)"><circle r="7"/><text y="5">Mualzo_Qaibki</text></g>
<g id="n-Goilqu_Soohhe" class="n" transform="translate(91,679)"><circle r="7"/><text y="5">Goilqu_Soohhe</text></g>
<g id="n-Huarpa_Xuujlo" class="n" transform="translate(299,698)"><circle r="7"/><text y="5">Huarpa_Xuujlo</text></g>
<g id="n-Keaxxo_Daekto" class="n" transform="translate(711,700)"><circle r="7"/><text y="5">Keaxxo_Daekto</text></g>
<g id="n-Roeyqe_Liatna" class="n" transform="translate(1041,708)"><circle r="7"/><text y="5">Roeyqe_Liatna</text></g>
<g id="n-Wiadxu_Jeokqo" class="n" transform="translate(878,715)"><circle r="7"/><text y="5">Wiadxu_Jeokqo</text></g>
<g id="n-Zuaxxu_Zoicto" class="n" transform="translate(461,744)"><circle r="7"/><text y="5">Zuaxxu_Zoicto</text></g>
<g id="n-Zaabku_Jeehci" class="n" transform="translate(559,742)"><circle r="7"/><text y="5">Zaabku_Jeehci</text></g>
<g id="n-Xuakzi_Hoonme" class="n" transform="translate(959,747)"><circle r="7"/><text y="5">Xuakzi_Hoonme</text></g>
<g id="n-Zoassi_Qaabqe" class="n" transform="translate(362,751)"><circle r="7"/><text y="5">Zoassi_Qaabqe</text></g>
<g id="n-Faosro_Juuqqo" class="n" transform="translate(798,760)"><circle r="7"/><text y="5">Faosro_Juuqqo</text></g>
<g id="n-Yeujka_Poehko" class="n" transform="translate(258,762)"><circle r="7"/><text y="5">Yeujka_Poehko</text></g>
<g id="n-Saetri_Diawda" class="n" transform="translate(107,765)"><circle r="7"/><text y="5">Saetri_Diawda</text></g>
<g id="n-Seajco_Beenwa" class="n" transform="translate(1026,787)"><circle r="7"/><text y="5">Seajco_Beenwa</text></g>
<g id="n-Meecwo_Loorgu" class="n" transform="translate(895,802)"><circle r="7"/><text y="5">Meecwo_Loorgu</text></g>
<g id="n-Haacwa_Paajpa" class="n" transform="translate(332,821)"><circle r="7"/><text y="5">Haacwa_Paajpa</text></g>
<g id="n-Beelli_Yaubta" class="n" transform="translate(427,823)"><circle r="7"/><text y="5">Beelli_Yaubta</text></g>
<g id="n-Tuugri_Kuewdi" class="n" transform="translate(520,829)"><circle r="7"/><text y="5">Tuugri_Kuewdi</text></g>
<g id="n-Yaarxa_Leubhi" class="n" transform="translate(253,838)"><circle r="7"/><text y="5">Yaarxa_Leubhi</text></g>
<g id="n-Geifbo_Biugbe" class="n" transform="translate(779,841)"><circle r="7"/><text y="5">Geifbo_Biugbe</text></g>
<g id="n-Puigda_Jaezba" class="n" transform="translate(978,846)"><circle r="7"/><text y="5">Puigda_Jaezba</text></g>
<g id="n-Puutqu_Roibjo" class="n" transform="translate(865,873)"><circle r="7"/><text y="5">Puutqu_Roibjo</text></g>
<g id="n-Baagfi_Piumvu" class="n" transform="translate(588,885)"><circle r="7"/><text y="5">Baagfi_Piumvu</text></g>
<g id="n-Maepwi_Jeizne" class="n" transform="translate(380,892)"><circle r="7"/><text y="5">Maepwi_Jeizne</text></g>
<g id="n-Laalyo_Kaabve" class="n" transform="translate(295,907)"><circle r="7"/><text y="5">Laalyo_Kaabve</text></g>
<g id="n-Taennu_Raapma" class="n" transform="translate(464,908)"><circle r="7"/><text y="5">Taennu_Raapma</text></g>
<g id="n-Jiovju_Moejce" class="n" transform="translate(939,910)"><circle r="7"/><text y="5">Jiovju_Moejce</text></g>
<g id="n-Jouslo_Maitvu" class="n" transform="translate(702,915)"><circle r="7"/><text y="5">Jouslo_Maitvu</text></g>
<g id="n-Vuagfu_Veukxe" class="n" transform="translate(788,927)"><circle r="7"/><text y="5">Vuagfu_Veukxe</text></g>
<g id="n-Caehsu_Qaacna" class="n" transform="translate(534,952)"><circle r="7"/><text y="5">Caehsu_Qaacna</text></g>
<g id="n-Naatwu_Laanlo" class="n" transform="translate(632,962)"><circle r="7"/><text y="5">Naatwu_Laanlo</text></g>
<g id="n-Caufto_Huizda" class="n" transform="translate(867,962)"><circle r="7"/><text y="5">Caufto_Huizda</text></g>
<g id="n-Ceejpe_Beirge" class="n" transform="translate(362,964)"><circle r="7"/><text y="5">Ceejpe_Beirge</text></g>
<g id="n-Vietfo_Wialqa" class="n" transform="translate(437,992)"><circle r="7"/><text y="5">Vietfo_Wialqa</text></g>
<g id="n-Taijge_Biecgu" class="n" transform="translate(780,1003)"><circle r="7"/><text y="5">Taijge_Biecgu</text></g>
<g id="n-Leawyo_Wiuszo" class="n" transform="translate(698,1019)"><circle r="7"/><text y="5">Leawyo_Wiuszo</text></g>
<g id="n-Xoigki_Qaehmu" class="n" transform="translate(513,1025)"><circle r="7"/><text y="5">Xoigki_Qaehmu</text></g>
<g id="n-Heozra_Heowra" class="n" transform="translate(605,1034)"><circle r="7"/><text y="5">Heozra_Heowra</text></g>
<g id="h-lovely" class="h" transform="translate(484,263)"><circle r="7"/><text y="5">lovely</text></g>
<g id="h-clear" class="h" transform="translate(526,262)"><circle r="7"/><text y="5">clear</text></g>
<g id="h-wave" class="h" transform="translate(506,326)"><circle r="7"/><text y="5">wave</text></g>
<g id="h-hot" class="h" transform="translate(543,332)"><circle r="7"/><text y="5">hot</text></g>
<g id="h-touch" class="h" transform="translate(579,563)"><circle r="7"/><text y="5">touch</text></g>
<g id="h-classic" class="h" transform="translate(660,788)"><circle r="7"/><text y="5">classic</text></g>
<g id="h-shuffle" class="h" transform="translate(668,814)"><circle r="7"/><text y="5">shuffle</text></g>
<g id="h-stores" class="h" transform="translate(1198,377)"><circle r="7"/><text y="5">stores</text></g>
<g id="h-active" class="h" transform="translate(1209,514)"><circle r="7"/><text y="5">active</text></g>
</g>
</svg>
